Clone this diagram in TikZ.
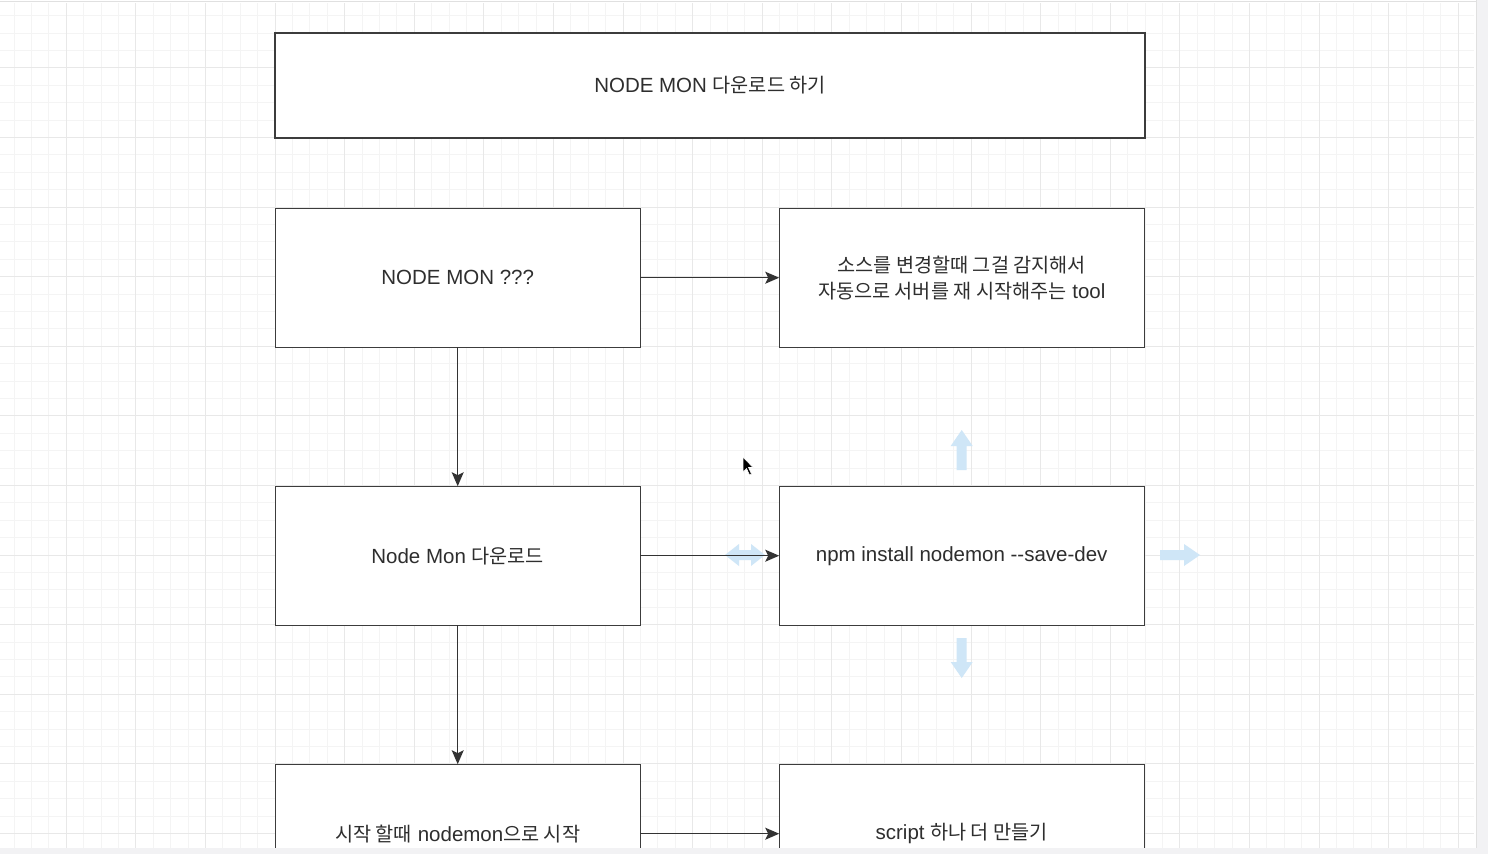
\documentclass[tikz,border=0pt]{standalone}
\usepackage{fontspec}
\setmainfont{Liberation Sans}
\newfontfamily\kr[Scale=0.96]{Noto Sans CJK KR}
\newcommand{\ko}[1]{{\kr #1}}
\usetikzlibrary{arrows.meta,matrix}
\definecolor{gridminor}{HTML}{F4F4F4}
\definecolor{gridmajor}{HTML}{E8E8E8}
\definecolor{boxline}{HTML}{3C3C3C}
\definecolor{boxtext}{HTML}{2E2E2E}
\definecolor{hover}{HTML}{CFE6F7}
\definecolor{chrome}{HTML}{F2F2F4}

\begin{document}
\begin{tikzpicture}[
          x=1pt, y=-1pt,
          box/.style={
            rectangle,
            draw=boxline,
            line width=1.3pt,
            fill=white,
            text=boxtext,
            align=center,
            outer sep=0pt,
            minimum width=365pt,
            minimum height=139pt,
            font=\fontsize{20.5}{26}\selectfont,
          },
          link/.style={
            draw=black!80,
            line width=1.3pt,
            -{Stealth[length=14pt,width=12pt,inset=3pt]},
          },
          hoverarrow/.pic={
            \fill[hover] (0,-5) -- (24,-5) -- (24,-11) -- (40,0)
              -- (24,11) -- (24,5) -- (0,5) -- cycle;
          },
        ]
          \useasboundingbox (0,0) rectangle (1488,854);
          \fill[white] (0,0) rectangle (1488,854);
          % grid
          \begin{scope}
            \clip (0,3) rectangle (1474,848);
            \foreach \k in {-16,...,68}
              \draw[gridminor, line width=0.8pt] ({275+17.4*\k},0) -- ++(0,854);
            \foreach \k in {-1,...,47}
              \draw[gridminor, line width=0.8pt] (0,{33+17.4*\k}) -- ++(1474,0);
            \foreach \k in {-4,...,17}
              \draw[gridmajor, line width=0.9pt] ({275+69.6*\k},0) -- ++(0,854);
            \foreach \k in {-1,...,11}
              \draw[gridmajor, line width=0.9pt] (0,{67.8+69.6*\k}) -- ++(1474,0);
          \end{scope}
          \begin{scope}
            \clip (0,0) rectangle (1474,848);
            \node[box, minimum width=870pt, minimum height=105pt, anchor=north west]
              (title) at (275,33) {NODE MON \ko{다운로드 하기}};
            \matrix[row sep=137.7pt, column sep=137.7pt, inner sep=0pt, anchor=north west]
              at (274.35,207.35) {%
              \node[box](what){NODE MON ???}; &
              \node[box](desc){\ko{소스를 변경할때 그걸 감지해서}\\\ko{자동으로 서버를 재 시작해주는} tool}; \\
              \node[box](dl){Node Mon \ko{다운로드}}; &
              \node[box](npm){npm install nodemon -{}-save-dev}; \\
              \node[box](start){\ko{시작 할때} nodemon\ko{으로 시작}}; &
              \node[box](script){script \ko{하나 더 만들기}}; \\
            };
            % hover handles round the selected box
            \pic[rotate=90] at (npm.north |- 0,470) {hoverarrow};
            \pic[rotate=-90] at (npm.south |- 0,638) {hoverarrow};
            \pic at (1160,555) {hoverarrow};
            \fill[hover] (725,555) -- (739,544) -- (739,550) -- (751,550) -- (751,544)
              -- (765,555) -- (751,566) -- (751,560) -- (739,560) -- (739,566) -- cycle;
            \draw
                (what) edge [link] (desc)
                (what) edge [link] (dl)
                (dl) edge [link] (npm)
                (dl) edge [link] (start)
                (start) edge [link] (script);
            % mouse pointer
            \filldraw[fill=black, draw=white, line width=0.6pt]
              (743,457) -- (743,472) -- (746.5,468.5) -- (749.5,475) -- (751.5,474)
              -- (748.5,467.5) -- (753,467.5) -- cycle;
          \end{scope}
          % window chrome
          \fill[chrome] (0,848) rectangle (1488,854);
          \fill[chrome] (1476,0) rectangle (1488,854);
          \draw[black!12, line width=1pt] (1476.5,0) -- (1476.5,848);
          \draw[black!12, line width=1.5pt] (0,1.5) -- (1476,1.5);
        \end{tikzpicture}
\end{document}
